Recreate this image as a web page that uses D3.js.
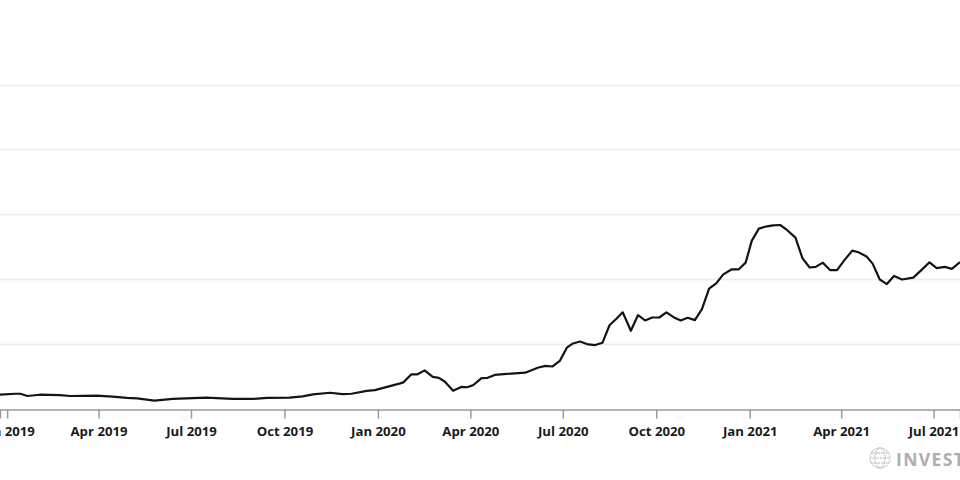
<!DOCTYPE html>
<html>
<head>
<meta charset="utf-8">
<script src="https://cdn.jsdelivr.net/npm/d3@7"></script>
<style>
  html, body { margin: 0; padding: 0; background: #fff; }
  svg { display: block; }
</style>
</head>
<body>
<svg id="chart" width="960" height="480"></svg>
<script>
const dates = ["2018-12-25","2019-01-09","2019-01-14","2019-01-21","2019-02-02","2019-02-22","2019-03-04","2019-03-30","2019-04-15","2019-04-29","2019-05-09","2019-05-26","2019-06-13","2019-07-16","2019-08-11","2019-08-31","2019-09-14","2019-10-06","2019-10-19","2019-10-29","2019-11-15","2019-11-27","2019-12-06","2019-12-21","2019-12-29","2020-01-23","2020-01-26","2020-02-03","2020-02-09","2020-02-16","2020-02-24","2020-03-01","2020-03-07","2020-03-15","2020-03-23","2020-03-29","2020-04-04","2020-04-12","2020-04-18","2020-04-25","2020-05-07","2020-05-25","2020-06-07","2020-06-14","2020-06-21","2020-06-28","2020-07-05","2020-07-11","2020-07-18","2020-07-26","2020-08-02","2020-08-09","2020-08-16","2020-08-23","2020-08-29","2020-09-06","2020-09-13","2020-09-20","2020-09-27","2020-10-04","2020-10-11","2020-10-18","2020-10-25","2020-11-01","2020-11-08","2020-11-15","2020-11-22","2020-11-29","2020-12-06","2020-12-14","2020-12-21","2020-12-28","2021-01-03","2021-01-10","2021-01-18","2021-01-24","2021-01-31","2021-02-07","2021-02-15","2021-02-22","2021-03-01","2021-03-07","2021-03-14","2021-03-21","2021-03-28","2021-04-04","2021-04-12","2021-04-18","2021-04-26","2021-05-02","2021-05-09","2021-05-16","2021-05-23","2021-05-31","2021-06-11","2021-06-20","2021-06-27","2021-07-04","2021-07-12","2021-07-19","2021-07-27"];
const values = [4.4,4.7,4.7,4.0,4.4,4.3,4.0,4.1,3.8,3.4,3.3,2.6,3.1,3.5,3.1,3.1,3.4,3.5,3.9,4.5,5.0,4.6,4.7,5.6,5.8,7.9,8.2,10.7,10.7,11.9,9.9,9.6,8.4,5.6,6.8,6.7,7.4,9.5,9.6,10.5,10.8,11.2,12.8,13.3,13.1,14.8,18.9,20.2,20.8,19.9,19.7,20.4,25.8,27.9,29.8,24.1,28.9,27.3,28.2,28.2,29.8,28.3,27.3,28.1,27.4,30.8,37.1,38.7,41.5,43.0,43.0,45.1,51.8,55.6,56.3,56.6,56.7,55.1,52.8,46.4,43.6,43.8,45.1,42.8,42.8,45.8,48.8,48.3,47.0,44.8,39.9,38.5,41.0,39.9,40.5,43.1,45.2,43.4,43.8,43.2,45.3];
const gridValues = [0, 20, 40, 60, 80, 100];
const tickDates = ["2019-01-01","2019-04-01","2019-07-01","2019-10-01","2020-01-01","2020-04-01","2020-07-01","2020-10-01","2021-01-01","2021-04-01","2021-07-01"];
const domainDates = ["2018-12-25", "2021-07-27"];
const watermark = "INVESTOPEDIA";

const parse = d3.timeParse("%Y-%m-%d");
const data = dates.map((d, i) => ({ date: parse(d), value: values[i] }));

const W = 960, H = 480;
const svg = d3.select("#chart");

const x = d3.scaleTime()
  .domain(domainDates.map(parse))
  .range([0, W]);
const y = d3.scaleLinear()
  .domain([0, 100])
  .range([409, 84.5]);

// gridlines
svg.append("g")
  .selectAll("line")
  .data(gridValues.slice(1))
  .join("line")
  .attr("x1", 0).attr("x2", W)
  .attr("y1", d => Math.round(y(d)) + 0.5)
  .attr("y2", d => Math.round(y(d)) + 0.5)
  .attr("stroke", "#ececec")
  .attr("stroke-width", 1.5);

// x axis
const xAxis = d3.axisBottom(x)
  .tickValues(tickDates.map(parse))
  .tickFormat(d3.timeFormat("%b %Y"))
  .tickSize(9)
  .tickPadding(8);

const gx = svg.append("g")
  .attr("transform", `translate(0,${Math.round(y(0)) + 0.5})`)
  .call(xAxis);
gx.select(".domain").attr("stroke", "#9a9a9a").attr("stroke-width", 1.5);
gx.selectAll(".tick line").attr("stroke", "#9a9a9a").attr("stroke-width", 1.5);
gx.selectAll(".tick text")
  .attr("fill", "#1a1a1a")
  .style("font-family", "'Open Sans', sans-serif")
  .style("font-weight", "700")
  .style("font-size", "13.2px");

// line
const line = d3.line()
  .x(d => x(d.date))
  .y(d => y(d.value));

svg.append("path")
  .datum(data)
  .attr("d", line)
  .attr("fill", "none")
  .attr("stroke", "#141414")
  .attr("stroke-width", 2.2)
  .attr("stroke-linejoin", "round");

// watermark
const wm = svg.append("g");
const globe = wm.append("g").attr("transform", "translate(880,458)").attr("opacity", 0.7);
globe.append("circle").attr("r", 10).attr("fill", "none").attr("stroke", "#aaa").attr("stroke-width", 1.3).attr("stroke-dasharray", "1.5,1");
globe.append("ellipse").attr("rx", 5).attr("ry", 10).attr("fill", "none").attr("stroke", "#aaa").attr("stroke-width", 1.3).attr("stroke-dasharray", "1.5,1");
globe.append("line").attr("x1", -10).attr("x2", 10).attr("stroke", "#aaa").attr("stroke-width", 1.3).attr("stroke-dasharray", "1.5,1");
globe.append("line").attr("x1", -9).attr("x2", 9).attr("y1", -5).attr("y2", -5).attr("stroke", "#aaa").attr("stroke-width", 1.3).attr("stroke-dasharray", "1.5,1");
globe.append("line").attr("x1", -9).attr("x2", 9).attr("y1", 5).attr("y2", 5).attr("stroke", "#aaa").attr("stroke-width", 1.3).attr("stroke-dasharray", "1.5,1");
wm.append("text")
  .attr("x", 896)
  .attr("y", 465.5)
  .attr("fill", "#aeaeae")
  .style("font-family", "'Open Sans', sans-serif")
  .style("font-weight", "700")
  .style("font-size", "17.5px")
  .style("letter-spacing", "1.4px")
  .text(watermark);
</script>
</body>
</html>
